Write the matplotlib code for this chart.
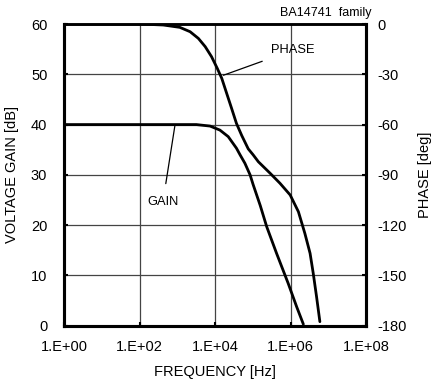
import matplotlib
matplotlib.use("Agg")
import matplotlib.pyplot as plt
from matplotlib.ticker import FixedLocator, NullLocator

plt.rcParams['font.family'] = ['Liberation Sans', 'DejaVu Sans']

# ---- data ----
gain_freq = [1, 100, 1000, 3200, 7400, 13500, 22400, 37000, 46000, 62000,
             85000, 102000, 158000, 234000, 427000, 870000, 1450000, 2190000]
gain_db = [40.0, 40.0, 40.0, 40.0, 39.7, 38.9, 37.6, 35.3, 34.0, 32.3,
           30.0, 28.1, 23.9, 19.7, 14.4, 8.4, 3.8, 0.3]

phase_freq = [1, 100, 427, 1170, 2190, 3630, 5500, 8100, 11500, 15100,
              20400, 27500, 37000, 51000, 76000, 102000, 141000, 290000,
              525000, 980000, 1620000, 2400000, 3300000, 4000000, 4900000,
              6000000]
phase_deg = [0, 0, -0.6, -2, -4.6, -8.6, -13.5, -19.5, -26.5, -32.4,
             -41.4, -50.3, -59.3, -66.5, -74.5, -78, -82.2, -89.1,
             -95, -102, -112, -124.9, -136.8, -148.7, -162.7, -177.6]

x_ticks = [1e0, 1e2, 1e4, 1e6, 1e8]
x_labels = ['1.E+00', '1.E+02', '1.E+04', '1.E+06', '1.E+08']
gain_ticks = [0, 10, 20, 30, 40, 50, 60]
phase_ticks = [0, -30, -60, -90, -120, -150, -180]

W, H = 436, 383
fig = plt.figure(figsize=(W / 100, H / 100), dpi=100)
ax = fig.add_axes([64 / W, 1 - 325.7 / H, (366 - 64) / W, (325.7 - 24) / H])

ax.set_xscale('log')
ax.set_xlim(1e0, 1e8)
ax.set_ylim(0, 60)
ax.xaxis.set_major_locator(FixedLocator(x_ticks))
ax.set_xticklabels(x_labels)
ax.xaxis.set_minor_locator(NullLocator())
ax.set_yticks(gain_ticks)
ax.set_yticklabels([str(v) for v in gain_ticks])

ax.grid(True, which='major', color='#444444', linewidth=0.9)
ax.set_axisbelow(True)

ax.plot(gain_freq, gain_db, color='black', linewidth=2.0,
        solid_joinstyle='round', solid_capstyle='round')

ax2 = ax.twinx()
ax2.set_ylim(-180, 0)
ax2.set_yticks(phase_ticks)
ax2.set_yticklabels([str(v) for v in phase_ticks])
ax2.plot(phase_freq, phase_deg, color='black', linewidth=2.0,
         solid_joinstyle='round', solid_capstyle='round')

for a in (ax, ax2):
    for s in a.spines.values():
        s.set_linewidth(2.2)
        s.set_color('black')
    a.spines['top'].set_linewidth(1.8)

ax.tick_params(axis='x', direction='in', length=3, width=1.5, labelsize=10.5, pad=10)
ax.tick_params(axis='y', direction='in', length=3, width=1.5, labelsize=10.5, pad=12)
ax2.tick_params(axis='y', direction='in', length=3, width=1.5, labelsize=10.5, pad=8)

# annotations
ax.annotate('PHASE', xy=(10 ** 4.22, 49.8), xytext=(10 ** 6.07, 54.8),
            fontsize=9.3, ha='center', va='center',
            arrowprops=dict(arrowstyle='-', color='black', lw=0.9,
                            shrinkA=5, shrinkB=0))
ax.annotate('GAIN', xy=(10 ** 2.94, 39.9), xytext=(10 ** 2.62, 24.6),
            fontsize=9.3, ha='center', va='center',
            arrowprops=dict(arrowstyle='-', color='black', lw=0.9,
                            shrinkA=7, shrinkB=0))

fig.text(371 / W, 1 - 13 / H, 'BA14741  family', fontsize=9, ha='right', va='center')
fig.text(12 / W, 1 - 175 / H, 'VOLTAGE GAIN [dB]', fontsize=10.5, rotation=90,
         ha='center', va='center')
fig.text(425 / W, 1 - 175 / H, 'PHASE [deg]', fontsize=10.5, rotation=90,
         ha='center', va='center')
fig.text(215 / W, 1 - 372 / H, 'FREQUENCY [Hz]', fontsize=10.5,
         ha='center', va='center')

fig.savefig('out.png', dpi=100)
